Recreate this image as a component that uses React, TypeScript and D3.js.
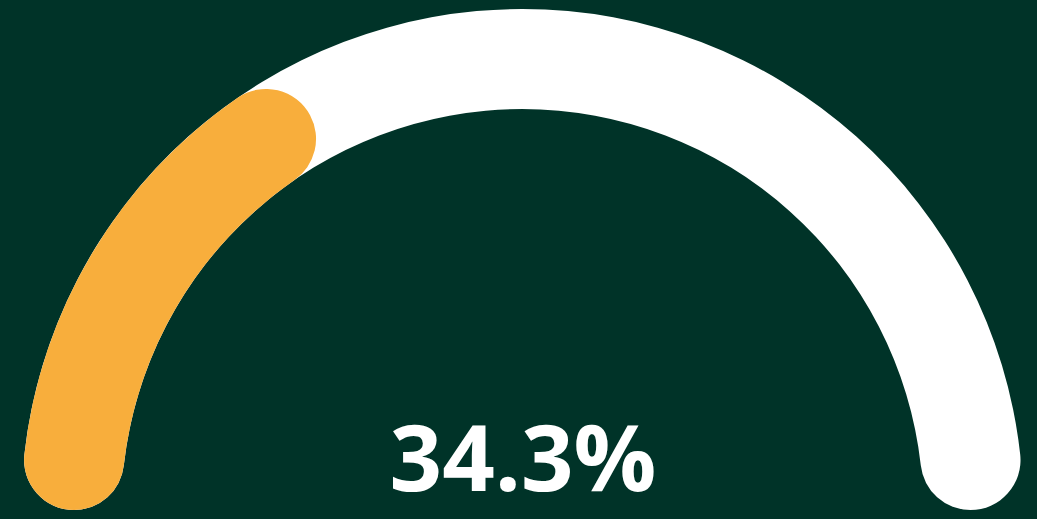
import React from "react";
import * as d3 from "d3";

const gaugeValue: number[] = [34.3];
const gaugeMin: number[] = [0];
const gaugeMax: number[] = [100];
const valueLabels: string[] = ["34.3%"];

const W = 1037;
const H = 519;

export default function App() {
  const cx = 522.3;
  const cy = 510;
  const outerR = 501;
  const innerR = 401;
  const angle = d3
    .scaleLinear()
    .domain([gaugeMin[0], gaugeMax[0]])
    .range([-Math.PI / 2, Math.PI / 2]);
  const arc = d3
    .arc<any>()
    .innerRadius(innerR)
    .outerRadius(outerR)
    .cornerRadius(50);
  const track = arc({ startAngle: angle(gaugeMin[0]), endAngle: angle(gaugeMax[0]) }) || "";
  const progress = arc({ startAngle: angle(gaugeMin[0]), endAngle: angle(gaugeValue[0]) }) || "";

  return (
    <div style={{ position: "fixed", left: 0, top: 0, width: W, height: H, background: "#003328" }}>
      <svg width={W} height={H} style={{ display: "block" }}>
        <rect x={0} y={0} width={W} height={H} fill="#003328" />
        <g transform={`translate(${cx},${cy})`}>
          <path d={track} fill="#ffffff" />
          <path d={progress} fill="#f8ae3c" />
        </g>
        <text
          x={523}
          y={491}
          textAnchor="middle"
          fill="#ffffff"
          fontFamily="'Open Sans', sans-serif"
          fontWeight={700}
          fontSize={92}
        >
          {valueLabels[0]}
        </text>
      </svg>
    </div>
  );
}
